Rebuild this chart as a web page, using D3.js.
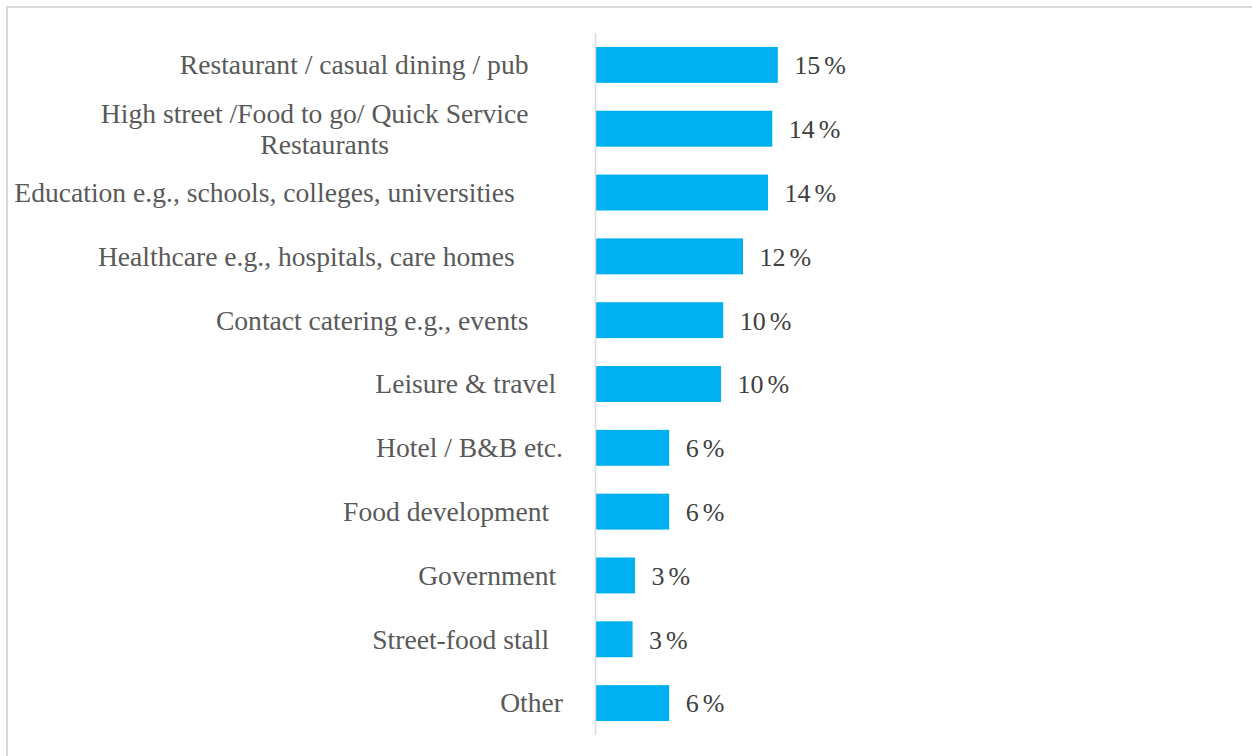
<!DOCTYPE html>
<html>
<head>
<meta charset="utf-8">
<script src="https://cdn.jsdelivr.net/npm/d3@7"></script>
<style>
  html, body { margin: 0; padding: 0; background: #ffffff; }
  svg { display: block; }
  svg text { white-space: pre; }
</style>
</head>
<body>
<svg id="chart" width="1252" height="756"></svg>
<script>
// Categories (trailing spaces as in the source labels)
const categories = [
  "Restaurant / casual dining / pub     ",
  "High street /Food to go/ Quick Service     |Restaurants",
  "Education e.g., schools, colleges, universities       ",
  "Healthcare e.g., hospitals, care homes       ",
  "Contact catering e.g., events     ",
  "Leisure & travel ",
  "Hotel / B&B etc.",
  "Food development  ",
  "Government ",
  "Street-food stall  ",
  "Other"
];
// Share of respondents (%)
const values = [14.9, 14.45, 14.1, 12.05, 10.43, 10.25, 6.0, 6.0, 3.2, 3.0, 6.0];

const FONT = "'Liberation Serif', 'Times New Roman', Tinos, 'DejaVu Serif', serif";

const svg = d3.select("#chart");
const W = 1252, H = 756;

// outer frame
svg.append("rect")
  .attr("x", 7).attr("y", 7)
  .attr("width", W + 10).attr("height", H + 10)
  .attr("fill", "none").attr("stroke", "#d9d9d9").attr("stroke-width", 2);

const axisX = 595.5;
const y = d3.scaleBand()
  .domain(d3.range(categories.length))
  .range([33, 735])
  .paddingInner(0.437)
  .paddingOuter(0.437 / 2);

const x = d3.scaleLinear().domain([0, 50]).range([596, 1206]);

// bars
svg.append("g").selectAll("rect")
  .data(values)
  .join("rect")
  .attr("x", x(0))
  .attr("y", (d, i) => y(i))
  .attr("width", d => x(d) - x(0))
  .attr("height", y.bandwidth())
  .attr("fill", "#00b0f0");

// vertical category axis line
svg.append("line")
  .attr("x1", axisX).attr("x2", axisX)
  .attr("y1", 33).attr("y2", 735)
  .attr("stroke", "#d9d9d9").attr("stroke-width", 1.5);

const fontSize = 27.6;
const valueSize = 26;

// value labels: number + space + %
const vt = svg.append("g").selectAll("text")
  .data(values)
  .join("text")
  .attr("x", d => x(d) + 16.5)
  .attr("y", (d, i) => y(i) + y.bandwidth() / 2)
  .attr("dy", "0.36em")
  .attr("font-family", FONT)
  .attr("font-size", valueSize)
  .attr("fill", "#404040");
vt.append("tspan").text(d => d3.format(".0f")(d));
vt.append("tspan").attr("dx", 4).text("%");

// category labels
const labelAnchor = 563;
const lineH = 31;
const lg = svg.append("g").attr("font-family", FONT);
categories.forEach((c, i) => {
  const lines = c.split("|");
  const cy = y(i) + y.bandwidth() / 2;
  const top = cy - (lines.length - 1) * lineH / 2;
  const t1 = lg.append("text")
    .attr("x", labelAnchor)
    .attr("y", top)
    .attr("dy", "0.34em")
    .attr("text-anchor", "end")
    .attr("font-size", fontSize)
    .attr("fill", "#595959")
    .text(lines[0]);
  if (lines.length > 1) {
    const trimmed = lines[0].replace(/\s+$/, "");
    const tmp = lg.append("text").attr("font-size", fontSize).text(trimmed);
    const wTrim = tmp.node().getComputedTextLength();
    tmp.remove();
    const wFull = t1.node().getComputedTextLength();
    const right = labelAnchor - (wFull - wTrim);
    const mid = right - wTrim / 2 + 10;
    lines.slice(1).forEach((ln, k) => {
      lg.append("text")
        .attr("x", mid)
        .attr("y", top + (k + 1) * lineH)
        .attr("dy", "0.34em")
        .attr("text-anchor", "middle")
        .attr("font-size", fontSize)
        .attr("fill", "#595959")
        .text(ln);
    });
  }
});
</script>
</body>
</html>
